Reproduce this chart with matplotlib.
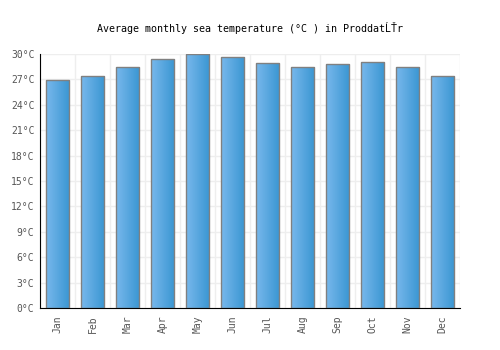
import matplotlib
matplotlib.use("Agg")
import matplotlib.pyplot as plt
import numpy as np
from matplotlib.colors import LinearSegmentedColormap

months = ["Jan", "Feb", "Mar", "Apr", "May", "Jun", "Jul", "Aug", "Sep", "Oct", "Nov", "Dec"]
temps = [26.9, 27.4, 28.4, 29.4, 30.0, 29.6, 28.9, 28.5, 28.8, 29.0, 28.4, 27.4]
yticks = [0, 3, 6, 9, 12, 15, 18, 21, 24, 27, 30]
title = "Average monthly sea temperature (°C ) in ProddatĹŤr"

plt.rcParams['font.family'] = ['DejaVu Sans Mono', 'DejaVu Sans']

fig = plt.figure(figsize=(5, 3.5), dpi=100)
ax = fig.add_axes([0.08, 0.12, 0.84, 0.726])

x = np.arange(len(months))
bars = ax.bar(x, temps, width=0.68, facecolor='none', edgecolor='#808080', linewidth=1.0, zorder=3)

cmap = LinearSegmentedColormap.from_list('g', ['#78b8ec', '#3a96d2'])
grad = np.linspace(0, 1, 64).reshape(1, -1)
for b in bars:
    x0, y0 = b.get_x(), b.get_y()
    w, h = b.get_width(), b.get_height()
    im = ax.imshow(grad, cmap=cmap, extent=[x0, x0 + w, y0, y0 + h], aspect='auto', zorder=2)
    im.set_clip_path(b)

ax.set_xlim(-0.5, len(months) - 0.5)
ax.set_ylim(0, 30)
ax.set_yticks(yticks)
ax.set_yticklabels([f"{v}°C" for v in yticks])
ax.set_xticks(x)
ax.set_xticklabels(months, rotation=90)

ax.set_xticks(np.arange(-0.5, len(months), 1), minor=True)
ax.grid(True, which='minor', axis='x', color='#eeeeee', linewidth=1, zorder=0)
ax.grid(True, which='major', axis='y', color='#eeeeee', linewidth=1, zorder=0)
ax.set_axisbelow(True)

for s in ['top', 'right']:
    ax.spines[s].set_visible(False)
ax.spines['left'].set_color('black')
ax.spines['bottom'].set_color('black')

ax.tick_params(axis='both', which='both', length=0, labelsize=7, colors='#555555')
ax.tick_params(axis='x', pad=5)
ax.tick_params(axis='y', pad=4)

fig.text(0.5, 0.92, title, ha='center', va='center', fontsize=7.2, color='#000000')

fig.savefig("out.png", dpi=100)
